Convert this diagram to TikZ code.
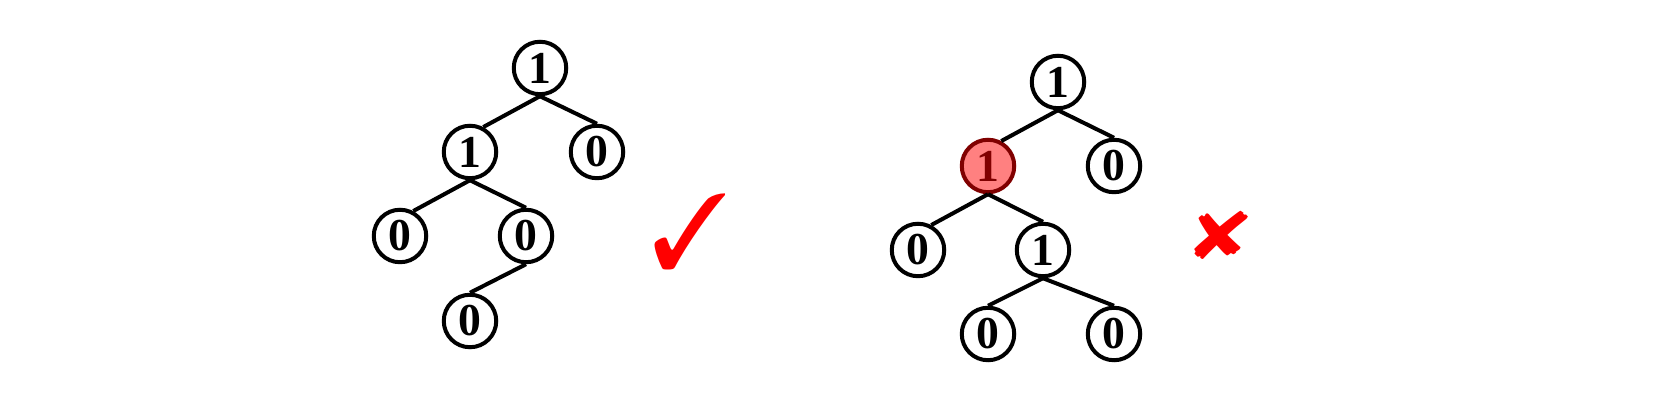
\documentclass[tikz,border=0pt]{standalone}
\usepackage{fontspec}
\setmainfont{Liberation Serif}
\usepackage{pifont}
\usepackage{graphicx}
\usepackage{xcolor}
\definecolor{markred}{RGB}{255, 0, 0}
\definecolor{hlfill}{RGB}{255, 128, 128}
\definecolor{hldark}{RGB}{128, 0, 0}

\tikzset{
  bit/.style={circle, draw, line width=0.08cm, minimum size=1.05cm, inner sep=0pt,
    font=\fontsize{26}{28}\selectfont\bfseries},
  badbit/.style={bit, fill=hlfill, draw=hldark, text=hldark},
  branch/.style={line width=0.08cm}
}

\begin{document}
\begin{tikzpicture}[x=0.02cm, y=-0.02cm]
    \useasboundingbox (0,0) rectangle (1656,404);

    % Left tree - valid
    \node[bit] (a) at (540,68) {1};
    \node[bit] (al) at (470,152) {1};
    \node[bit] (ar) at (597,152) {0};
    \node[bit] (all) at (400,236) {0};
    \node[bit] (alr) at (526,236) {0};
    \node[bit] (alrl) at (470,321) {0};
    \draw[branch] (a.south) -- (al.62);
    \draw[branch] (a.south) -- (ar.north);
    \draw[branch] (al.south) -- (all.62);
    \draw[branch] (al.south) -- (alr.north);
    \draw[branch] (alr.south) -- (alrl.north);
    \node[text=markred, inner sep=0pt] (ok) at (690,232) {\resizebox{1.55cm}{1.5cm}{\ding{51}}};

    % Right tree - invalid
    \node[bit] (b) at (1058,82) {1};
    \node[badbit] (bl) at (988,166) {1};
    \node[bit] (br) at (1114,166) {0};
    \node[bit] (bll) at (918,250) {0};
    \node[bit] (blr) at (1043,250) {1};
    \node[bit] (blrl) at (988,334) {0};
    \node[bit] (blrr) at (1114,334) {0};
    \draw[branch] (b.south) -- (bl.62);
    \draw[branch] (b.south) -- (br.north);
    \draw[branch] (bl.south) -- (bll.62);
    \draw[branch] (bl.south) -- (blr.north);
    \draw[branch] (blr.south) -- (blrl.north);
    \draw[branch] (blr.south) -- (blrr.north);
    \node[text=markred, inner sep=0pt] (bad) at (1221,235) {\resizebox{1.2cm}{0.95cm}{\ding{56}}};
  \end{tikzpicture}
\end{document}
